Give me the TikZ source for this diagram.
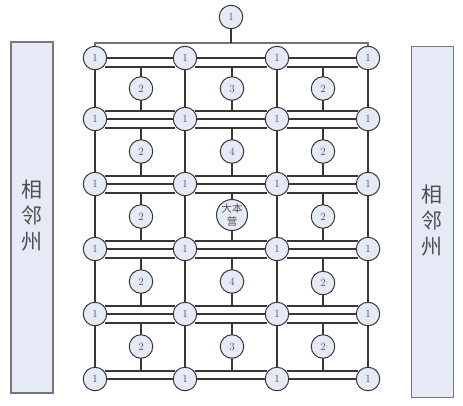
\documentclass[tikz,border=0pt]{standalone}
\usepackage{fontspec}
\newfontfamily\cjk{Noto Sans CJK SC}
\definecolor{fillc}{RGB}{230,233,246}
\definecolor{linec}{RGB}{55,55,55}
\definecolor{grayline}{RGB}{115,115,115}
\definecolor{boxline}{RGB}{120,120,120}
\definecolor{txtc}{RGB}{80,80,80}
\begin{document}
\begin{tikzpicture}[x=1pt,y=-1pt,
  nd/.style={circle, draw=linec, fill=fillc, line width=1pt, minimum size=23.5pt, inner sep=0pt,
    font=\fontsize{11}{11}\selectfont, text=txtc},
  bignd/.style={nd, minimum size=31pt, align=center, font=\cjk\fontsize{10.5}{12.5}\selectfont},
  ln/.style={line width=1.1pt, draw=linec},
  gl/.style={line width=1.4pt, draw=grayline},
  sidebox/.style={draw=boxline, fill=fillc, line width=1.4pt, inner sep=0pt},
  sidetxt/.style={align=center, font=\cjk\fontsize{21}{26}\selectfont, text=txtc}]
\useasboundingbox (0,0) rectangle (463,405);

% side boxes
\node[sidebox, minimum width=42pt, minimum height=351pt] (L) at (32,217.5) {};
\node[sidebox, minimum width=41.5pt, minimum height=350.5pt] (R) at (432.5,222) {};
\node[sidetxt] (Lt) at (32,215) {相\\邻\\州};
\node[sidetxt] (Rt) at (432,220) {相\\邻\\州};

% grid coordinates
\foreach \y [count=\r] in {58,119,184,249,314,379} {
  \foreach \x [count=\c] in {95,185,277,368} {
    \coordinate (p-\r-\c) at (\x,\y);
  }
}

% top frame
\coordinate (tl) at (95,43);
\coordinate (tr) at (368,43);
\coordinate (tm) at (231,43);
\draw[gl] (p-1-1) -- (tl) -- (tr) -- (p-1-4);
\draw[ln] (231,17) -- (tm);

% column lines
\foreach \c in {1,...,4} \draw[ln] (p-1-\c) -- (p-6-\c);
% row centre lines
\foreach \r in {1,...,6} \draw[ln] (p-\r-1) -- (p-\r-4);
% cell edge lines
\foreach \r [evaluate=\r as \rn using int(\r+1)] in {1,...,5} {
  \foreach \c [evaluate=\c as \cn using int(\c+1)] in {1,2,3} {
    \draw[ln] ([xshift=10pt,yshift=-9pt]p-\r-\c) -- ([xshift=-10pt,yshift=-9pt]p-\r-\cn);
    \draw[ln] ([xshift=10pt,yshift=8pt]p-\rn-\c) -- ([xshift=-10pt,yshift=8pt]p-\rn-\cn);
  }
}

% middle nodes with their verticals
\foreach \yt/\yb [count=\r] in {58/119,119/184,184/249,249/314,314/379} {
  \foreach \mx [count=\c] in {141,232,323} {
    \coordinate (mt-\r-\c) at (\mx,\yt+9);
    \coordinate (mb-\r-\c) at (\mx,\yb-8);
    \draw[ln] (mt-\r-\c) -- (mb-\r-\c);
  }
}
\node[nd] (m-1-1) at (141,88.5) {2};
\node[nd] (m-1-2) at (232,88.5) {3};
\node[nd] (m-1-3) at (323,88.5) {2};
\node[nd] (m-2-1) at (141,151.5) {2};
\node[nd] (m-2-2) at (232,151.5) {4};
\node[nd] (m-2-3) at (323,151.5) {2};
\node[nd] (m-3-1) at (141,216.5) {2};
\node[bignd] (m-3-2) at (232,215) {大本\\营};
\node[nd] (m-3-3) at (323,216.5) {2};
\node[nd] (m-4-1) at (141,281.5) {2};
\node[nd] (m-4-2) at (232,281.5) {4};
\node[nd] (m-4-3) at (323,283) {2};
\node[nd] (m-5-1) at (141,346.5) {2};
\node[nd] (m-5-2) at (232,346.5) {3};
\node[nd] (m-5-3) at (323,346.5) {2};

% grid nodes
\foreach \r in {1,...,6} {
  \foreach \c in {1,...,4} {
    \node[nd] (n-\r-\c) at (p-\r-\c) {1};
  }
}
\node[nd] (t) at (231,17) {1};
\end{tikzpicture}
\end{document}
